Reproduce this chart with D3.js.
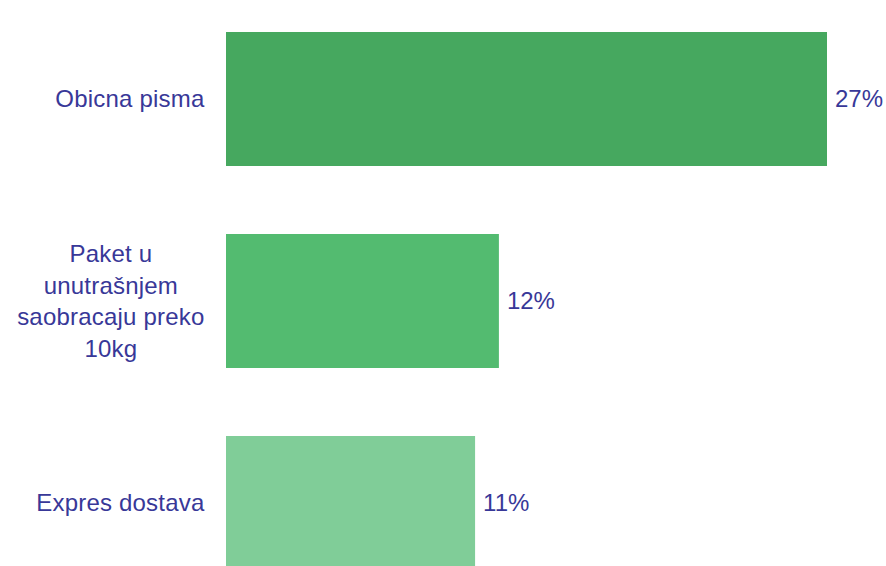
<!DOCTYPE html>
<html>
<head>
<meta charset="utf-8">
<script src="https://cdn.jsdelivr.net/npm/d3@7"></script>
<style>
  html, body { margin: 0; padding: 0; background: #ffffff; overflow: hidden; }
  svg { display: block; }
  text { font-family: "Liberation Sans", Arial, Helvetica, sans-serif; }
</style>
</head>
<body>
<svg id="chart" width="886" height="566"></svg>
<script>
// Data
const categories = [
  ["Obicna pisma"],
  ["Paket u", "unutrašnjem", "saobracaju preko", "10kg"],
  ["Expres dostava"]
];
const values = [27, 12.26, 11.19];
const valueLabels = ["27%", "12%", "11%"];
const barColors = ["#46a85f", "#53bb70", "#80cd98"];

const W = 886, H = 566;
const textColor = "#383898";
const svg = d3.select("#chart");

const ids = categories.map((c, i) => i);
const y = d3.scaleBand().domain(ids).range([32, 570]).paddingInner(68 / 202).paddingOuter(0);
const x = d3.scaleLinear().domain([0, 27]).range([226, 827]);

// Bars
svg.append("g").selectAll("rect").data(ids).join("rect")
  .attr("x", x(0))
  .attr("y", i => y(i))
  .attr("width", i => x(values[i]) - x(0))
  .attr("height", y.bandwidth())
  .attr("fill", i => barColors[i]);

// Value labels
svg.append("g").selectAll("text").data(ids).join("text")
  .attr("x", i => x(values[i]) + 8)
  .attr("y", i => y(i) + y.bandwidth() / 2)
  .attr("dy", "0.35em")
  .attr("font-size", 24)
  .attr("fill", textColor)
  .text(i => valueLabels[i]);

// Category labels (block right-aligned, lines centered within block)
const lineH = 31.4;
const rightEdge = 204.5;
ids.forEach(i => {
  const lines = categories[i];
  const g = svg.append("g");
  const cy = y(i) + y.bandwidth() / 2;
  const n = lines.length;
  const ts = lines.map((ln, k) => g.append("text")
    .attr("font-size", 24)
    .attr("letter-spacing", "0.2px")
    .attr("fill", textColor)
    .attr("text-anchor", "middle")
    .attr("y", cy + (k - (n - 1) / 2) * lineH)
    .attr("dy", "0.35em")
    .text(ln));
  const maxW = d3.max(ts, t => t.node().getComputedTextLength());
  ts.forEach(t => t.attr("x", rightEdge - maxW / 2));
});
</script>
</body>
</html>
